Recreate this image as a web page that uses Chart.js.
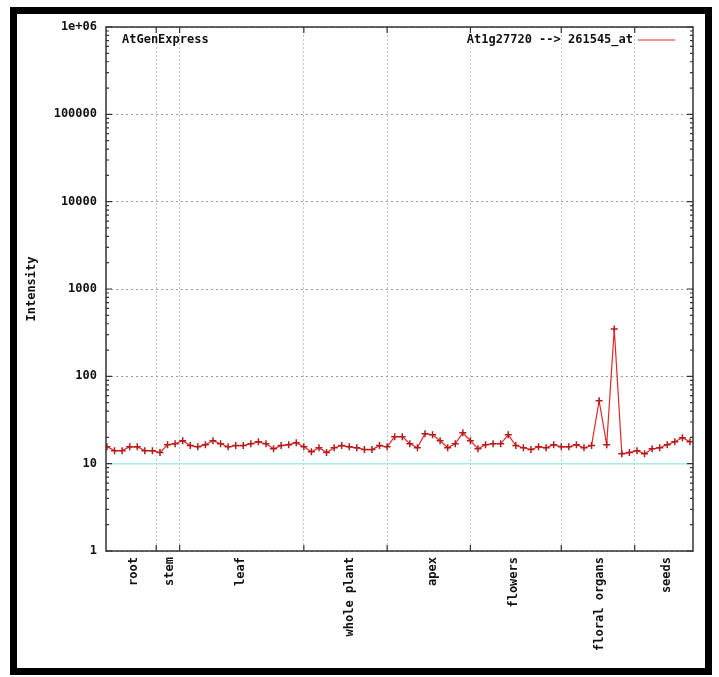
<!DOCTYPE html>
<html lang="en">
<head>
    <meta charset="UTF-8">
    <title>AtGenExpress</title>
    <script src="https://cdn.jsdelivr.net/npm/chart.js"></script>
    <style>
        body { margin: 0; background: #fff; }
        #wrap { position: relative; width: 719px; height: 677px; }
        #chart { position: absolute; left: 0; top: 0; }
        #frame { position: absolute; left: 10px; top: 7px; width: 702px; height: 668px;
                 border: 7px solid #000; box-sizing: border-box; pointer-events: none; }
    </style>
</head>
<body>
<div id="wrap">
    <canvas id="chart" width="719" height="677"></canvas>
    <div id="frame"></div>
</div>
<script>
// signal per sample
const intensity = [
    15.6, 14.1, 14.1, 15.6, 15.6, 14.1, 14.1, 13.4, 16.5, 16.9, 18.3, 16.1,
    15.6, 16.5, 18.3, 16.9, 15.6, 16.1, 16.1, 16.9, 17.8, 16.9, 14.8, 16.1,
    16.5, 17.4, 15.6, 13.7, 15.2, 13.4, 15.2, 16.1, 15.6, 15.2, 14.5, 14.5,
    16.1, 15.6, 20.4, 20.4, 16.9, 15.2, 22.0, 21.4, 18.3, 15.2, 16.9, 22.6,
    18.3, 14.8, 16.5, 16.9, 16.9, 21.4, 16.1, 15.2, 14.5, 15.6, 15.2, 16.5,
    15.6, 15.6, 16.5, 15.2, 16.1, 52.5, 16.5, 349, 13.0, 13.4, 14.1, 13.0,
    14.8, 15.2, 16.5, 17.8, 19.8, 17.8
];
const groupNames = ['root', 'stem', 'leaf', 'whole plant', 'apex', 'flowers', 'floral organs', 'seeds'];
const groupCenters = [4.5, 9.3, 18.7, 33.1, 44, 54.7, 66.1, 74.9];
const groupBounds = [7.5, 10.6, 27, 38, 49, 61, 70.7];
const yTicks = [1, 10, 100, 1000, 10000, 100000, 1000000];
const cutoff = 10;
const xMin = 0.87, xMax = 78.4;

Chart.defaults.font = { family: 'DejaVu Sans Mono', size: 12, weight: 'bold' };
Chart.defaults.color = '#111';

// plot box, inward tick marks, caption and key
const frame = {
    id: 'frame',
    afterDraw(chart) {
        const { ctx, chartArea: a, scales } = chart;
        ctx.save();
        ctx.strokeStyle = '#333';
        ctx.lineWidth = 1.2;
        ctx.beginPath();
        yTicks.forEach(d => {
            for (let m = 1; m < 10; m++) {
                const v = d * m;
                if (v > yTicks[yTicks.length - 1]) break;
                const y = scales.y.getPixelForValue(v);
                const len = m === 1 ? 6 : 3;
                ctx.moveTo(a.left, y); ctx.lineTo(a.left + len, y);
                ctx.moveTo(a.right, y); ctx.lineTo(a.right - len, y);
            }
        });
        groupBounds.forEach(v => {
            const x = scales.x.getPixelForValue(v);
            ctx.moveTo(x, a.bottom); ctx.lineTo(x, a.bottom - 6);
            ctx.moveTo(x, a.top); ctx.lineTo(x, a.top + 6);
        });
        ctx.stroke();
        ctx.lineWidth = 1.5;
        ctx.strokeRect(a.left, a.top, a.right - a.left, a.bottom - a.top);

        ctx.fillStyle = '#111';
        ctx.font = 'bold 12px "DejaVu Sans Mono"';
        ctx.textBaseline = 'middle';
        ctx.fillText('AtGenExpress', a.left + 16, a.top + 13);

        const ds = chart.data.datasets[0];
        ctx.textAlign = 'right';
        ctx.fillText(ds.label, a.right - 60, a.top + 13);
        ctx.strokeStyle = ds.borderColor;
        ctx.lineWidth = 1.2;
        ctx.beginPath();
        ctx.moveTo(a.right - 55, a.top + 13);
        ctx.lineTo(a.right - 18, a.top + 13);
        ctx.stroke();
        ctx.restore();
    }
};

new Chart(document.getElementById('chart'), {
    type: 'line',
    data: {
        datasets: [{
            label: 'At1g27720 --> 261545_at',
            data: intensity.map((v, i) => ({ x: i + 1, y: v })),
            borderColor: '#e02828',
            borderWidth: 1.2,
            pointStyle: 'cross',
            pointRadius: 3.5,
            pointBorderColor: '#b41c1c',
            pointBorderWidth: 1.5,
            tension: 0
        }, {
            label: 'cutoff',
            data: [{ x: xMin, y: cutoff }, { x: xMax, y: cutoff }],
            borderColor: '#a8e8ef',
            borderWidth: 1.5,
            pointRadius: 0
        }]
    },
    options: {
        responsive: false,
        animation: false,
        devicePixelRatio: 1,
        layout: { padding: { left: 20, right: 26, top: 27, bottom: 0 } },
        plugins: {
            title: { display: false },
            tooltip: { enabled: false },
            legend: { display: false }
        },
        scales: {
            x: {
                type: 'linear',
                min: xMin,
                max: xMax,
                afterBuildTicks: s => {
                    s.ticks = groupBounds.concat(groupCenters).map(v => ({ value: v }));
                },
                afterFit: s => { s.height = 126; },
                ticks: {
                    autoSkip: false,
                    minRotation: 90,
                    maxRotation: 90,
                    padding: 6,
                    callback: v => {
                        const i = groupCenters.indexOf(v);
                        return i >= 0 ? groupNames[i] : '';
                    }
                },
                grid: {
                    drawTicks: false,
                    color: c => groupBounds.includes(c.tick && c.tick.value) ? '#c4c4c4' : 'rgba(0,0,0,0)'
                },
                border: { display: false, dash: [2, 2] }
            },
            y: {
                type: 'logarithmic',
                min: 1,
                max: 1000000,
                afterBuildTicks: s => {
                    s.ticks = yTicks.map(v => ({ value: v }));
                },
                afterFit: s => { s.width = 86; },
                ticks: {
                    padding: 9,
                    callback: v => v === 1000000 ? '1e+06' : String(v)
                },
                grid: { drawTicks: false, color: '#9a9a9a' },
                border: { display: false, dash: [2, 3] },
                title: {
                    display: true,
                    text: 'Intensity',
                    padding: { top: 5, bottom: 0 },
                    font: { family: 'DejaVu Sans Mono', size: 12, weight: 'bold' }
                }
            }
        }
    },
    plugins: [frame]
});
</script>
</body>
</html>
